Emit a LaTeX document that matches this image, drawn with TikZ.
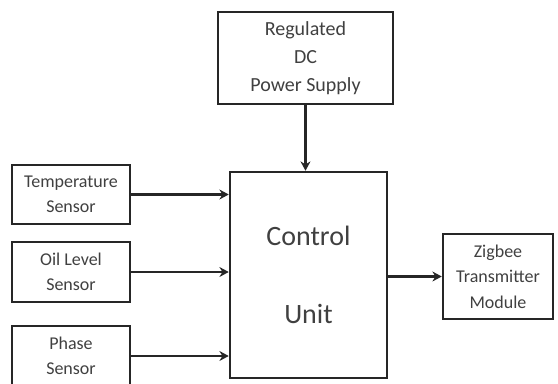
\documentclass[tikz,border=0pt]{standalone}
\usepackage{fontspec}
\setmainfont{Carlito}
\usetikzlibrary{arrows.meta}
\colorlet{box edge}{black!85}
\colorlet{box text}{black!75}
\tikzset{block/.style={draw=box edge, line width=1.9pt, text=box text, align=center,
        font=\fontsize{13.5}{19}\selectfont, inner sep=0pt},
    link/.style={draw=box edge, line width=1.9pt, -{Stealth[length=7pt,width=7.5pt]}}}

\begin{document}
\begin{tikzpicture}[x=0.75pt, y=-0.75pt]
     \clip (0,0) rectangle (558,383);
     \node[block, minimum width=131.25pt, minimum height=69pt,
           font=\fontsize{15}{21}\selectfont] (power) at (305.5,58) {Regulated\\DC\\Power Supply};
     \node[block, minimum width=117.75pt, minimum height=154.5pt,
           font=\fontsize{21}{59}\selectfont] (ctrl) at (308.5,275) {Control\\Unit};
     \node[block, minimum width=88.5pt, minimum height=44.25pt] (temp) at (71,194.5) {Temperature\\Sensor};
     \node[block, minimum width=88.5pt, minimum height=45pt] (oil) at (71,272) {Oil Level\\Sensor};
     \node[block, minimum width=88.5pt, minimum height=45pt] (phase) at (71,356) {Phase\\Sensor};
     \node[block, minimum width=82.5pt, minimum height=63.75pt] (zig) at (498,276.5) {Zigbee\\Transmitter\\Module};
     \draw[link] (power.south) -- (power.south |- ctrl.north);
     \draw[link] (temp.east) -- (temp.east -| ctrl.west);
     \draw[link] (oil.east) -- (oil.east -| ctrl.west);
     \draw[link] (phase.east) -- (phase.east -| ctrl.west);
     \draw[link] (zig.west -| ctrl.east) -- (zig.west);
 \end{tikzpicture}
\end{document}
